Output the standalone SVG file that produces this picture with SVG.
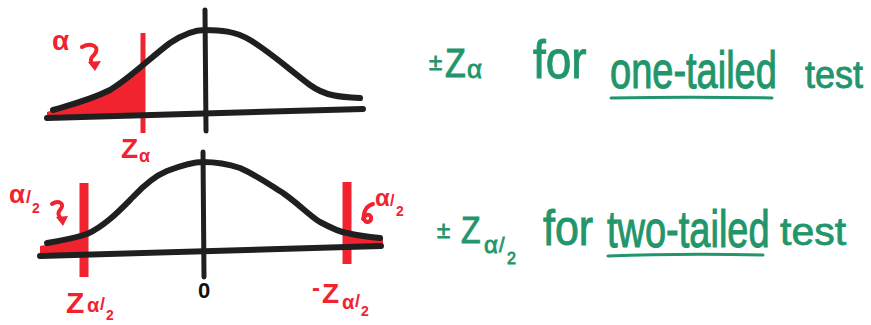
<svg xmlns="http://www.w3.org/2000/svg" width="871" height="325" viewBox="0 0 871 325">
<style>
.ink{fill:none;stroke:#1f1f1f;stroke-width:6;stroke-linecap:round;stroke-linejoin:round}
.ax{fill:none;stroke:#1f1f1f;stroke-width:5;stroke-linecap:round}
.rl{fill:none;stroke:#f0232f;stroke-linecap:butt}
.rf{fill:#f0232f;stroke:none}
.rt{fill:#f0232f;font-family:"Liberation Sans",Arial,sans-serif;font-weight:bold}
.gt{fill:#22966a;stroke:#22966a;stroke-width:0.8;font-family:"Liberation Sans",Arial,sans-serif}
.sq{fill:none;stroke:#f0232f;stroke-width:4;stroke-linecap:round;stroke-linejoin:round}
.ul{fill:none;stroke:#22966a;stroke-width:3;stroke-linecap:round}
</style>
<defs>
<clipPath id="cTop"><rect x="40" y="40" width="103" height="90"/></clipPath>
<clipPath id="cBotL"><rect x="36" y="200" width="48" height="70"/></clipPath>
<clipPath id="cBotR"><rect x="347" y="200" width="40" height="70"/></clipPath>
</defs>

<g id="top-chart">
  <path class="rf" clip-path="url(#cTop)" d="M53,110 C70,105 90,100 110,90 C130,78 150,58 170,43 L170,115 L47,118 L47,112 Z"/>
  <line class="rl" x1="143" y1="33" x2="143" y2="133" style="stroke-width:5"/>
  <path class="ink" d="M53,110 C70,105 90,100 110,90 C130,78 150,58 170,43 C185,33 195,30 205,30 C220,30 235,31 250,40 C270,52 290,70 310,85 C325,96 340,97 360,98"/>
  <line class="ink" x1="47" y1="118" x2="363" y2="109"/>
  <line class="ax" x1="205" y1="10" x2="206" y2="131"/>
  <text class="rt" x="52" y="50" font-size="28">α</text>
  <path class="sq" d="M82,47 C92,42 101,47 94,55 C89,59 91,63 94,66"/>
  <path class="rf" d="M88,62 L101,61 L95,71 Z"/>
  <text class="rt" x="121" y="158" font-size="28">Z</text>
  <text class="rt" x="139" y="162" font-size="18">α</text>
</g>

<g id="bottom-chart">
  <path class="rf" clip-path="url(#cBotL)" d="M40,246 C60,242 75,238 87,234 L87,255 L40,256 Z"/>
  <path class="rf" clip-path="url(#cBotR)" d="M340,231 C355,235 370,237 383,238 L383,247 L340,248 Z"/>
  <line class="rl" x1="84" y1="183" x2="84" y2="277" style="stroke-width:9"/>
  <line class="rl" x1="347" y1="182" x2="347" y2="264" style="stroke-width:9"/>
  <path class="ink" d="M47,243 C65,240 75,238 87,234 C105,226 120,210 133,197 C145,184 155,176 167,171 C180,166 192,162 203,162 C215,162 228,164 240,168 C258,176 270,185 283,193 C300,205 310,216 320,222 C333,229 340,232 347,233 C360,236 370,237 380,238"/>
  <line class="ink" x1="40" y1="256" x2="381" y2="246"/>
  <line class="ax" x1="203" y1="152" x2="204" y2="277"/>
  <text x="204" y="298" font-size="22" font-weight="bold" text-anchor="middle" fill="#111" font-family="Liberation Sans, Arial, sans-serif">0</text>

  <text class="rt" x="9" y="203" font-size="26">α</text>
  <text class="rt" x="26" y="203" font-size="18">/</text>
  <text class="rt" x="32" y="213" font-size="14">2</text>
  <path class="sq" d="M52,204 C58,200 66,203 60,210 C56,214 60,218 62,220"/>
  <path class="rf" d="M56,217 L68,216 L63,226 Z"/>

  <text class="rt" x="66" y="313" font-size="30">Z</text>
  <text class="rt" x="87" y="312" font-size="20">α</text>
  <text class="rt" x="100" y="310" font-size="18">/</text>
  <text class="rt" x="106" y="320" font-size="14">2</text>

  <text class="rt" x="375" y="206" font-size="24">α</text>
  <text class="rt" x="390" y="206" font-size="16">/</text>
  <text class="rt" x="396" y="216" font-size="14">2</text>
  <path class="sq" d="M373,204 C366,206 363,212 364,219 C366,224 372,222 371,217 C369,213 364,215 363,219"/>

  <text class="rt" x="312" y="296" font-size="24">-</text>
  <text class="rt" x="322" y="303" font-size="28">Z</text>
  <text class="rt" x="342" y="309" font-size="20">α</text>
  <text class="rt" x="355" y="307" font-size="18">/</text>
  <text class="rt" x="361" y="316" font-size="14">2</text>
</g>

<g id="one-tailed-label">
  <text class="gt" x="429" y="70" font-size="24">±</text>
  <text class="gt" transform="translate(445,77) scale(1,1.2)" font-size="34">Z</text>
  <text class="gt" x="467" y="78" font-size="26">α</text>
  <text class="gt" transform="translate(533,78) scale(1,1.15)" font-size="46">for</text>
  <text class="gt" transform="translate(610,88) scale(1,1.35)" font-size="38">one-tailed</text>
  <text class="gt" transform="translate(805,88) scale(1,1.1)" font-size="36">test</text>
  <path class="ul" d="M611,98 C660,97 720,97 772,98"/>
</g>

<g id="two-tailed-label">
  <text class="gt" x="437" y="238" font-size="24">±</text>
  <text class="gt" transform="translate(461,243) scale(1,1.15)" font-size="32">Z</text>
  <text class="gt" x="484" y="253" font-size="24">α</text>
  <text class="gt" x="499" y="252" font-size="20">/</text>
  <text class="gt" x="507" y="264" font-size="16">2</text>
  <text class="gt" transform="translate(543,245) scale(1,1.15)" font-size="43">for</text>
  <text class="gt" transform="translate(607,247) scale(1,1.35)" font-size="38">two-tailed</text>
  <text class="gt" transform="translate(780,245) scale(1,0.95)" font-size="41">test</text>
  <path class="ul" d="M608,256 C660,254 715,254 763,255"/>
</g>
</svg>
